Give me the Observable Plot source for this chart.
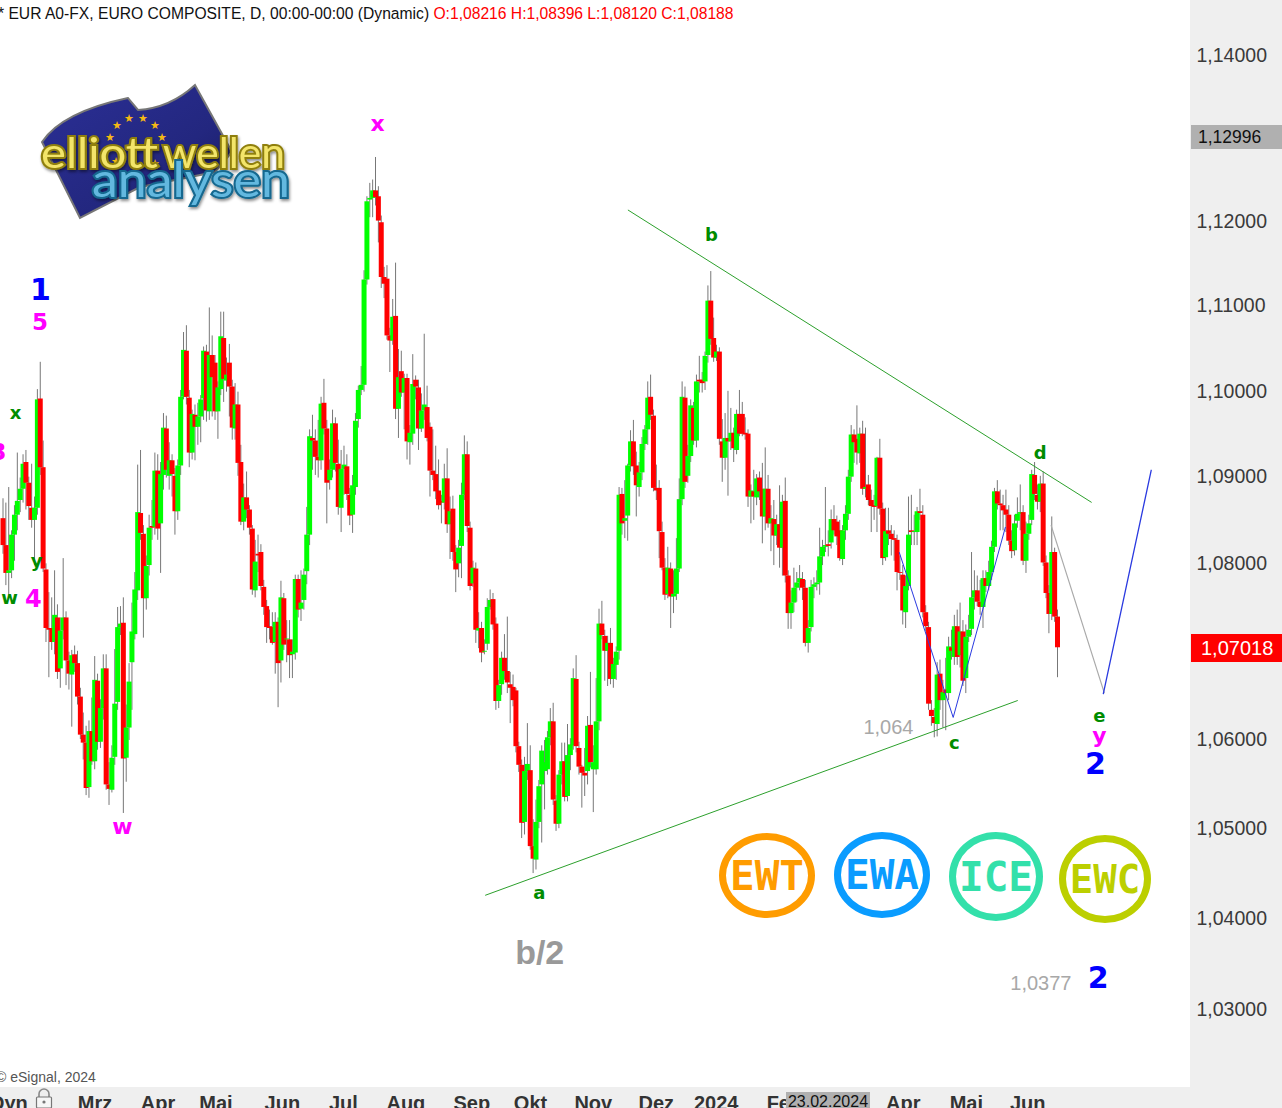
<!DOCTYPE html>
<html lang="de"><head><meta charset="utf-8"><title>EUR A0-FX</title>
<script src="https://cdn.jsdelivr.net/npm/d3@7"></script>
<script src="https://cdn.jsdelivr.net/npm/@observablehq/plot@0.6"></script>
<style>
html,body{margin:0;padding:0;background:#fff;overflow:hidden}
#page{position:relative;width:1282px;height:1108px;overflow:hidden;font-family:"Liberation Sans",Arial,sans-serif}
.panel{position:absolute;background:#efefef;z-index:0}
#chart{position:absolute;left:0;top:0;z-index:1}
#chart svg{display:block;background:transparent}
.over{position:absolute;z-index:2;white-space:nowrap}
.tag{left:1191px;width:91px;box-sizing:border-box}
.badge{position:absolute;z-index:2;box-sizing:border-box;border-radius:50%;border-style:solid;border-width:7px;display:flex;align-items:center;justify-content:center;font:bold 41px "DejaVu Sans Mono",monospace;background:#fff}
</style></head><body>
<div id="page">
  <div class="panel" style="left:1190px;top:0;width:92px;height:1108px"></div>
  <div class="panel" style="left:0;top:1087px;width:1282px;height:21px"></div>
  <div id="chart"></div>

  <div class="over" style="left:-2px;top:4.5px;font-size:15.65px;line-height:18px;color:#111">* EUR A0-FX, EURO COMPOSITE, D, 00:00-00:00 (Dynamic) <span style="color:#f00">O:1,08216 H:1,08396 L:1,08120 C:1,08188</span></div>
  <div class="over" style="left:-4px;top:1069px;font-size:14px;line-height:16px;color:#555">© eSignal, 2024</div>
  <div class="over" style="left:-10px;top:1091px;font-size:20px;line-height:24px;font-weight:bold;color:#333">Dyn</div>
  <svg class="over" style="left:34px;top:1088px" width="20" height="20" viewBox="0 0 20 20"><path d="M5 9V6a5 5 0 0 1 10 0v3" fill="none" stroke="#888" stroke-width="1.6"/><rect x="2.5" y="9" width="15" height="11" rx="1" fill="#f6f6f6" stroke="#777" stroke-width="1.2"/><circle cx="10" cy="14" r="1.6" fill="#777"/></svg>
  <div class="over" style="left:786px;top:1092px;width:84px;height:16px;background:#b0b0b0;color:#111;font-size:16px;line-height:20px;text-align:center">23.02.2024</div>

  <div class="over tag" style="top:125px;height:24px;background:#b0b0b0;color:#111;font-size:17.5px;line-height:24px;padding-left:7px">1,12996</div>
  <div class="over tag" style="top:634px;height:28px;background:#ff0000;color:#fff;font-size:20px;line-height:29px;padding-left:10px">1,07018</div>

  <div class="badge" style="left:719px;top:833px;width:96px;height:85px;border-color:#ff9c00;color:#ff9c00">EWT</div>
  <div class="badge" style="left:834px;top:832px;width:96px;height:86px;border-color:#0a9cff;color:#0a9cff">EWA</div>
  <div class="badge" style="left:949px;top:832px;width:94px;height:89px;border-color:#33e0aa;color:#33e0aa">ICE</div>
  <div class="badge" style="left:1059px;top:835px;width:92px;height:88px;border-color:#bccf00;color:#bccf00;font-size:39px">EWC</div>

  <svg class="over" style="left:20px;top:70px" width="290" height="170" viewBox="20 70 290 170">
    <defs>
      <linearGradient id="fl" x1="0" y1="0" x2="1" y2="1"><stop offset="0" stop-color="#2b2f96"/><stop offset=".6" stop-color="#23277f"/><stop offset="1" stop-color="#181a5c"/></linearGradient>
      <filter id="sh" x="-5%" y="-5%" width="110%" height="120%"><feDropShadow dx="1" dy="2" stdDeviation="1.5" flood-color="#000" flood-opacity=".45"/></filter>
    </defs>
    <path d="M42 142 Q62 112 128 98 L138 110 Q170 108 195 85 L232 152 L215 172 L140 187 L80 218 Z" fill="url(#fl)" stroke="#777" stroke-width="2"/>
    <g fill="#f4b814" font-size="11" text-anchor="middle" font-family="DejaVu Sans">
      <text x="117" y="129">★</text><text x="129" y="122">★</text><text x="143" y="122">★</text><text x="155" y="129">★</text><text x="162" y="141">★</text><text x="110" y="141">★</text><text x="155" y="167">★</text><text x="116" y="165">★</text>
    </g>
    <g font-family="Lato,'Open Sans',sans-serif" font-weight="normal" style="paint-order:stroke" filter="url(#sh)">
      <text x="41" y="168" font-size="42" textLength="117" lengthAdjust="spacingAndGlyphs" fill="#f3e56a" stroke="#8f7f10" stroke-width="4">elliott</text>
      <text x="163" y="168" font-size="42" textLength="122" lengthAdjust="spacingAndGlyphs" fill="#f3e56a" stroke="#8f7f10" stroke-width="4">wellen</text>
      <text x="92" y="197" font-size="48" textLength="198" lengthAdjust="spacingAndGlyphs" fill="#63b8df" stroke="#14688f" stroke-width="4">analysen</text>
    </g>
  </svg>
</div>
<script>
// Daily prices, in units of 0.0001 (10850 = 1,0850)
const opens = [
10852,10821,10789,10792,10833,10856,10873,10886,10917,10893,
10864,10850,10864,10991,10911,10793,10726,10726,10710,10738,
10680,10723,10738,10689,10673,10696,10686,10648,10605,10596,
10546,10609,10575,10666,10597,10635,10680,10549,10543,10580,
10642,10727,10732,10579,10613,10687,10719,10769,10858,10834,
10760,10798,10843,10842,10907,10846,10902,10956,10901,10919,
10901,10860,10913,10993,11047,10992,10928,10972,10958,10970,
10991,11046,10976,11042,11033,10976,11002,11062,11012,11033,
11005,10956,10984,10917,10848,10876,10862,10840,10769,10811,
10813,10773,10751,10728,10727,10710,10733,10689,10760,10713,
10713,10696,10698,10782,10748,10758,10791,10833,10945,10942,
10923,10919,10986,10956,10896,10908,10962,10915,10864,10909,
10912,10879,10856,10888,10967,11001,11007,11131,11226,11228,
11237,11230,11199,11134,11132,11065,11059,11088,10979,11023,
10998,11015,10940,10950,11013,11004,10956,10977,10981,10958,
10907,10903,10884,10872,10870,10898,10845,10863,10813,10800,
10820,10879,10926,10841,10777,10794,10723,10726,10699,10708,
10750,10759,10731,10643,10662,10692,10677,10662,10659,10655,
10592,10571,10507,10564,10565,10480,10465,10507,10549,10564,
10566,10602,10620,10531,10505,10560,10575,10536,10582,10593,
10668,10590,10569,10562,10564,10616,10566,10566,10620,10731,
10717,10700,10709,10668,10684,10700,10880,10849,10855,10913,
10941,10913,10888,10905,10938,10955,10993,10971,10887,10887,
10836,10795,10765,10794,10762,10765,10794,10874,10992,10901,
10924,10980,10942,11013,11013,11011,11042,11106,11062,11039,
11046,10941,10922,10945,10941,10951,10931,10973,10973,10951,
10950,10877,10883,10876,10899,10886,10854,10886,10846,10851,
10832,10845,10818,10872,10786,10743,10755,10772,10778,10782,
10772,10709,10727,10773,10776,10778,10808,10819,10822,10824,
10851,10848,10838,10805,10838,10857,10900,10949,10944,10927,
10950,10886,10891,10873,10867,10866,10922,10863,10807,10838,10834,10829,
10827,10790,10787,10744,10774,10838,10836,10836,10860,10856,
10744,10727,10633,10625,10617,10674,10644,10656,10652,10704,
10693,10728,10695,10722,10669,10716,10725,10761,10769,10756,
10750,10783,10774,10790,10819,10883,10869,10867,10862,10856,
10826,10815,10849,10857,10859,10803,10834,10850,10902,10879,
10871,10892,10801,10766,10742,10813,10739];
const closes = [
10821,10789,10792,10833,10856,10872,10886,10915,10893,10866,
10850,10864,10990,10911,10794,10726,10724,10710,10741,10676,
10723,10738,10689,10674,10695,10686,10648,10605,10596,10545,
10609,10575,10667,10597,10635,10680,10549,10544,10579,10640,
10727,10731,10578,10613,10665,10722,10770,10859,10835,10760,
10797,10841,10841,10907,10840,10903,10957,10908,10919,10903,
10860,10913,10993,11048,10993,10928,10973,10958,10970,10990,
11047,10977,11042,11016,10976,11004,11064,11014,11019,11005,
10957,10984,10916,10848,10876,10862,10841,10770,10802,10809,
10774,10750,10727,10726,10709,10733,10686,10761,10707,10714,
10695,10699,10782,10747,10755,10787,10833,10947,10942,10923,
10919,10985,10956,10893,10908,10962,10916,10865,10909,10914,
10880,10855,10890,10965,11001,11007,11131,11224,11228,11237,
11229,11201,11134,11126,11065,11059,11087,10979,11016,10998,
11015,10941,10951,11008,11005,10956,10977,10984,10945,10907,
10902,10883,10867,10870,10898,10845,10860,10813,10793,10818,
10879,10926,10843,10774,10795,10724,10726,10698,10700,10750,
10758,10730,10643,10661,10692,10677,10664,10658,10644,10592,
10571,10506,10564,10572,10480,10466,10507,10547,10587,10574,
10602,10620,10532,10505,10560,10575,10535,10582,10594,10669,
10592,10569,10562,10559,10615,10574,10574,10620,10731,10718,
10700,10709,10668,10685,10699,10879,10846,10852,10913,10941,
10912,10890,10905,10938,10955,10992,10972,10887,10884,10837,
10795,10764,10795,10762,10765,10794,10874,10993,10894,10924,
10983,10942,11011,11011,11009,11041,11106,11061,11039,11046,
10944,10922,10945,10941,10951,10933,10973,10950,10950,10949,
10877,10884,10877,10898,10883,10854,10886,10846,10852,10832,
10845,10818,10871,10786,10743,10755,10772,10778,10783,10772,
10709,10726,10773,10776,10778,10808,10819,10821,10820,10851,
10838,10831,10806,10838,10857,10900,10949,10940,10928,10950,
10886,10888,10873,10866,10865,10922,10863,10806,10837,10834,10828,10827,
10790,10789,10746,10774,10833,10836,10837,10860,10858,10744,
10728,10640,10626,10618,10673,10644,10653,10652,10705,10700,
10728,10693,10722,10666,10716,10724,10761,10769,10756,10750,
10783,10774,10790,10819,10883,10869,10867,10861,10856,10826,
10814,10846,10857,10859,10803,10834,10846,10903,10880,10871,
10892,10801,10766,10742,10813,10739,10704];
const highs = [
10875,10870,10888,10838,10867,10928,10899,10926,10931,10900,
10915,10877,11002,11034,10942,10800,10767,10761,10792,10753,
10738,10806,10745,10699,10701,10706,10700,10658,10630,10615,
10621,10647,10694,10674,10645,10696,10696,10574,10593,10702,
10750,10751,10761,10639,10686,10755,10790,10914,10931,10844,
10809,10856,10873,10928,10926,10917,10974,10971,10940,10926,
10910,10920,11001,11069,11077,11001,10978,10984,10986,10995,
11052,11054,11098,11065,11042,11011,11093,11093,11039,11055,
11013,11009,10999,10937,10892,10906,10867,10844,10827,10833,
10822,10781,10758,10747,10744,10744,10738,10780,10766,10735,
10735,10713,10787,10787,10792,10794,10865,10955,10972,10955,
10966,10993,11014,10966,10920,10978,10969,10943,10931,10936,
10926,10887,10902,10974,11006,11029,11142,11230,11246,11250,
11277,11242,11207,11146,11148,11074,11108,11151,11049,11047,
11020,11020,10960,11043,11018,11013,10997,11067,11006,10963,
10955,10936,10920,10879,10915,10933,10877,10878,10821,10827,
10893,10948,10941,10848,10803,10801,10744,10733,10713,10760,
10770,10766,10738,10667,10699,10719,10739,10676,10673,10658,
10597,10577,10580,10618,10593,10510,10532,10554,10593,10599,
10609,10635,10641,10537,10565,10596,10596,10617,10601,10680,
10695,10597,10571,10590,10626,10676,10593,10669,10748,10757,
10724,10717,10726,10692,10705,10888,10887,10896,10915,10954,
10966,10929,10917,10946,10960,11011,11019,10978,10914,10896,
10848,10806,10819,10801,10792,10829,10898,11011,11005,10937,
10990,10987,11019,11041,11022,11046,11124,11141,11086,11054,
11051,10967,10974,11000,10980,10957,10978,11001,10987,10969,
10955,10891,10908,10903,10906,10916,10934,10902,10867,10873,
10856,10890,10879,10899,10792,10769,10795,10790,10798,10790,
10781,10735,10781,10784,10792,10841,10827,10888,10838,10862,
10867,10855,10850,10844,10867,10908,10960,10955,10983,10957,
10965,10957,10902,10885,10879,10923,10944,10870,10864,10864,10844,10838,
10833,10809,10798,10786,10877,10879,10856,10865,10886,10867,
10752,10733,10644,10635,10687,10690,10667,10692,10716,10724,
10741,10747,10755,10735,10730,10741,10813,10792,10786,10781,
10792,10792,10803,10826,10887,10896,10885,10879,10885,10867,
10838,10856,10876,10891,10867,10848,10856,10908,10917,10891,
10901,10906,10809,10775,10854,10818,10747];
const lows = [
10811,10775,10764,10783,10803,10838,10859,10870,10862,10850,
10841,10798,10856,10902,10790,10710,10670,10701,10696,10668,
10658,10713,10661,10656,10614,10676,10639,10600,10577,10537,
10534,10571,10566,10588,10590,10622,10543,10526,10540,10571,
10633,10718,10517,10552,10599,10633,10713,10758,10827,10715,
10747,10786,10827,10833,10827,10789,10885,10899,10885,10877,
10833,10850,10902,10990,10984,10911,10920,10919,10937,10940,
10966,10964,10966,10970,10966,10944,10995,10987,10999,10970,
10943,10943,10901,10844,10838,10852,10833,10764,10761,10790,
10769,10741,10709,10713,10707,10674,10636,10664,10701,10687,
10669,10669,10690,10738,10734,10747,10776,10821,10908,10902,
10899,10908,10949,10846,10885,10899,10906,10856,10836,10879,
10873,10844,10835,10879,10957,10995,10999,11125,11205,11205,
11219,11175,11121,11109,11060,11022,11054,10967,10945,10993,
10955,10920,10914,10937,10990,10931,10952,10966,10941,10877,
10896,10874,10862,10846,10862,10835,10805,10803,10767,10784,
10783,10873,10836,10769,10773,10709,10703,10687,10696,10701,
10747,10724,10633,10635,10650,10667,10652,10618,10637,10585,
10563,10489,10493,10554,10476,10450,10454,10500,10484,10521,
10560,10593,10526,10497,10500,10549,10530,10530,10565,10588,
10585,10560,10523,10536,10549,10568,10518,10560,10610,10713,
10666,10660,10662,10658,10667,10690,10833,10829,10826,10906,
10902,10854,10877,10896,10931,10937,10966,10883,10873,10806,
10792,10758,10760,10726,10743,10758,10790,10867,10887,10893,
10917,10937,10934,10998,10998,11001,11033,11054,11034,11035,
10937,10894,10908,10878,10931,10917,10926,10947,10947,10943,
10865,10846,10850,10867,10873,10823,10838,10841,10814,10798,
10821,10795,10786,10778,10725,10725,10744,10756,10769,10758,
10705,10698,10722,10760,10769,10764,10798,10813,10808,10817,
10833,10821,10803,10798,10827,10850,10894,10916,10914,10916,
10879,10876,10867,10836,10850,10836,10856,10798,10803,10821,10809,10803,
10769,10781,10730,10726,10769,10821,10821,10821,10850,10738,
10722,10633,10615,10602,10603,10633,10613,10610,10644,10690,
10684,10684,10681,10660,10652,10710,10718,10747,10751,10741,
10726,10767,10769,10781,10813,10862,10838,10838,10836,10821,
10806,10809,10841,10838,10798,10789,10827,10844,10873,10862,
10859,10797,10760,10720,10735,10733,10670];

// Overlays: trend lines (session number and price)
const upperTrendIdx = [218.2, 379.8], upperTrendPx = [11214, 10871];
const lowerTrendIdx = [168.4, 354], lowerTrendPx = [10426, 10644];
const blueWaveIdx = [312.8, 331.6, 349.8], blueWavePx = [10813, 10625, 10842];
const grayPathIdx = [365.8, 384.3], grayPathPx = [10844, 10653];
const bluePathIdx = [384, 400.7], bluePathPx = [10652, 10908];

// Wave labels
const waveText  = ["1","5","x","3","y","w","4","w","x","b","a","d","c","e","y","2","2"];
const waveIdx   = [13.1,12.9,4.4,-1.6,11.7,2.3,10.6,41.7,130.7,247.2,187.2,362,332,382.6,382.6,381.2,382.2];
const wavePx    = [11119,11081,10974,10928,10803,10761,10759,10502,11317,11184,10428,10928,10596,10626,10604,10572,10334];
const waveColor = ["#0000ff","#ff00ff","#008c00","#ff00ff","#008c00","#008c00","#ff00ff","#ff00ff","#ff00ff","#008c00","#008c00","#008c00","#008c00","#008c00","#ff00ff","#0000ff","#0000ff"];
const waveSize  = [30,23,18,23,18,18,24,22,22,18,18,18,18,18,22,30,30];
const noteText = ["1,064","1,0377"];
const noteIdx = [309,362.2];
const notePx = [10614,10328];

// Axis labels
const yTicks = [1.14,1.12,1.11,1.10,1.09,1.08,1.06,1.05,1.04,1.03];
const monthText = ["Mrz","Apr","Mai","Jun","Jul","Aug","Sep","Okt","Nov","Dez","2024","Feb","Apr","Mai","Jun"];
const monthIdx = [32.1,54.1,74.3,97.5,118.8,140.6,163.6,184.1,206,228,248.9,272.7,314.2,336.2,357.6];

const idx = d3.range(opens.length);
const pr = v => v / 1e4;
const body = i => closes[i] >= opens[i] ? "#00ff00" : "#ff0000";
const seg = (xs, ys) => xs.map((x, i) => ({x, y: pr(ys[i])}));
const trendLine = (xs, ys, stroke, strokeWidth) =>
  Plot.line(seg(xs, ys), {x: "x", y: "y", stroke, strokeWidth});

const chart = Plot.plot({
  width: 1282, height: 1108,
  marginLeft: 0, marginTop: 0, marginBottom: 0, marginRight: 92,
  style: {background: "transparent", fontFamily: '"Liberation Sans",Arial,sans-serif', overflow: "hidden"},
  x: {domain: [0, opens.length - 1], range: [2.5, 1057], axis: null},
  y: {type: "log", domain: [1.03, 1.14], range: [1009, 55], axis: null},
  color: {type: "identity"},
  marks: [
    Plot.ruleX(idx, {x: i => i, y1: i => pr(lows[i]), y2: i => pr(highs[i]), stroke: "#777777", strokeWidth: 1}),
    Plot.ruleX(idx, {x: i => i, y1: i => pr(opens[i]), y2: i => pr(closes[i]), stroke: body, strokeWidth: 5}),
    trendLine(upperTrendIdx, upperTrendPx, "#2ca02c", 1),
    trendLine(lowerTrendIdx, lowerTrendPx, "#2ca02c", 1),
    trendLine(blueWaveIdx, blueWavePx, "#2a3ae0", 1),
    trendLine(grayPathIdx, grayPathPx, "#aaaaaa", 1.2),
    trendLine(bluePathIdx, bluePathPx, "#2a3ae0", 1.3),
    Plot.axisY({anchor: "right", ticks: yTicks, tickSize: 0, tickPadding: 6, label: null,
      tickFormat: d => d.toFixed(5).replace(".", ","), fontSize: 19.5, fill: "#3a3a3a"}),
    Plot.text(waveText, {x: (d, i) => waveIdx[i], y: (d, i) => pr(wavePx[i]), text: d => d,
      fill: (d, i) => waveColor[i], fontSize: (d, i) => waveSize[i], fontWeight: "bold", fontFamily: "DejaVu Sans"}),
    Plot.text(noteText, {x: (d, i) => noteIdx[i], y: (d, i) => pr(notePx[i]), text: d => d,
      fill: "#a8a8a8", fontSize: 20}),
    Plot.text(["b/2"], {x: [187.3], y: [pr(10362)], text: d => d, fill: "#999999", fontSize: 34, fontWeight: "bold"}),
    Plot.text(monthText, {x: (d, i) => monthIdx[i], frameAnchor: "bottom", dy: 1, text: d => d,
      fill: "#333333", fontSize: 20, fontWeight: "bold"})
  ]
});
document.getElementById("chart").appendChild(chart);
</script>
</body></html>
